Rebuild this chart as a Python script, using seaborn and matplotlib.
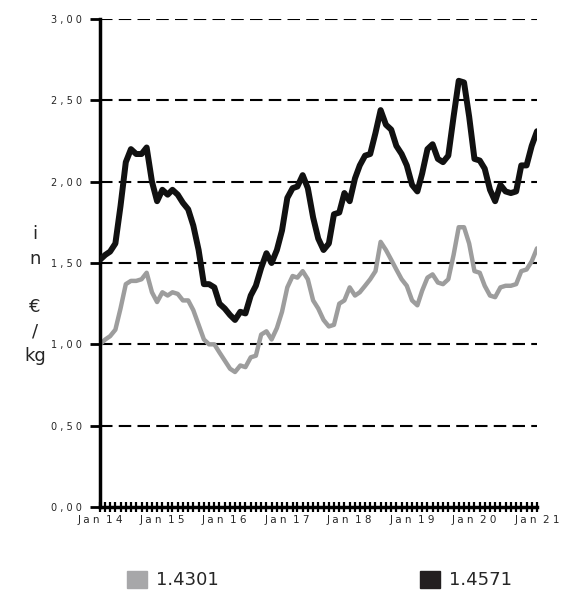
import pandas as pd
import numpy as np
import matplotlib
matplotlib.use("Agg")
import matplotlib.pyplot as plt
import matplotlib.dates as mdates
from matplotlib.ticker import FuncFormatter
from matplotlib.patches import Patch
import seaborn as sns

# monatliche Werte in EUR/kg, Jan 2014 - Jan 2021
months = pd.date_range("2014-01-01", "2021-01-01", freq="MS")

werte_14571 = [
    1.52, 1.55, 1.57, 1.62, 1.85, 2.12, 2.20, 2.17, 2.17, 2.21, 2.00, 1.88,
    1.95, 1.92, 1.95, 1.92, 1.87, 1.83, 1.73, 1.58, 1.37, 1.37, 1.35, 1.25,
    1.22, 1.18, 1.15, 1.20, 1.19, 1.30, 1.36, 1.47, 1.56, 1.50, 1.58, 1.70,
    1.90, 1.96, 1.97, 2.04, 1.96, 1.78, 1.65, 1.58, 1.62, 1.80, 1.81, 1.93,
    1.88, 2.02, 2.10, 2.16, 2.17, 2.30, 2.44, 2.35, 2.32, 2.22, 2.17, 2.10,
    1.98, 1.94, 2.05, 2.20, 2.23, 2.14, 2.12, 2.16, 2.40, 2.62, 2.61, 2.40,
    2.14, 2.13, 2.08, 1.95, 1.88, 1.98, 1.94, 1.93, 1.94, 2.10, 2.10, 2.22,
    2.31,
]
werte_14301 = [
    1.00, 1.03, 1.05, 1.09, 1.22, 1.37, 1.39, 1.39, 1.40, 1.44, 1.32, 1.26,
    1.32, 1.30, 1.32, 1.31, 1.27, 1.27, 1.21, 1.12, 1.03, 1.00, 1.00, 0.95,
    0.90, 0.85, 0.83, 0.87, 0.86, 0.92, 0.93, 1.06, 1.08, 1.03, 1.10, 1.20,
    1.35, 1.42, 1.41, 1.45, 1.40, 1.27, 1.22, 1.15, 1.11, 1.12, 1.25, 1.27,
    1.35, 1.30, 1.32, 1.36, 1.40, 1.45, 1.63, 1.58, 1.52, 1.46, 1.40, 1.36,
    1.27, 1.24, 1.33, 1.41, 1.43, 1.38, 1.37, 1.40, 1.55, 1.72, 1.72, 1.62,
    1.45, 1.44, 1.36, 1.30, 1.29, 1.35, 1.36, 1.36, 1.37, 1.45, 1.46, 1.51,
    1.59,
]
sorten = ["1.4301", "1.4571"]
farben = {"1.4301": "#9d9d9d", "1.4571": "#111111"}
breiten = {"1.4301": 3.2, "1.4571": 4.3}
jahres_labels = ["Jan 14", "Jan 15", "Jan 16", "Jan 17", "Jan 18", "Jan 19", "Jan 20", "Jan 21"]
y_ticks = [0, 0.5, 1.0, 1.5, 2.0, 2.5, 3.0]

df = pd.DataFrame({"Monat": list(months) * 2,
                   "Preis": werte_14301 + werte_14571,
                   "Sorte": ["1.4301"] * len(months) + ["1.4571"] * len(months)})


def sperren(t):
    # Buchstaben gesperrt wie im Original
    return "  ".join(" ".join(w) for w in t.split(" "))


sns.set_style("white")
plt.rcParams["ytick.left"] = True
plt.rcParams["xtick.bottom"] = True

fig = plt.figure(figsize=(5.61, 5.90), dpi=100)
ax = fig.add_axes([100 / 561, 1 - 507 / 590, 437 / 561, 488 / 590])

for s in sorten:
    sns.lineplot(data=df[df["Sorte"] == s], x="Monat", y="Preis", color=farben[s],
                 linewidth=breiten[s], ax=ax, legend=False, zorder=3 if s == "1.4571" else 2)

ax.set_ylim(0, 3)
ax.set_yticks(y_ticks)
ax.yaxis.set_major_formatter(FuncFormatter(lambda v, p: sperren(f"{v:.2f}".replace(".", ","))))

ax.set_xlim(months[0], months[-1])
ax.set_xticks(pd.date_range("2014-01-01", "2021-01-01", freq="YS"))
ax.xaxis.set_minor_locator(mdates.MonthLocator())
ax.set_xticklabels([sperren(l) for l in jahres_labels], fontsize=7.5)
ax.tick_params(axis="x", which="both", bottom=True, direction="inout", length=7, width=1.6,
               color="black", pad=2)
ax.set_xlabel("")
ax.set_ylabel("")

# Gitter gestrichelt
for y in y_ticks[1:]:
    ax.axhline(y, color="black", linewidth=1.5, linestyle=(0, (6, 3)), zorder=1)

for side in ["top", "right"]:
    ax.spines[side].set_visible(False)
for side in ["left", "bottom"]:
    ax.spines[side].set_linewidth(2.5)
    ax.spines[side].set_color("black")

fig.text(35 / 561, 1 - 295 / 590, "i\nn\n\n€\n/\nkg", ha="center", va="center",
         fontsize=13, linespacing=1.45)

fig.legend(handles=[Patch(color="#a7a7a9")], labels=["1.4301"], loc="center left",
           bbox_to_anchor=(111 / 561, 1 - 580 / 590), frameon=False, fontsize=13,
           handlelength=1.1, handleheight=1.1, handletextpad=0.5)
fig.legend(handles=[Patch(color="#231f20")], labels=["1.4571"], loc="center left",
           bbox_to_anchor=(404 / 561, 1 - 580 / 590), frameon=False, fontsize=13,
           handlelength=1.1, handleheight=1.1, handletextpad=0.5)

# y-Ticks ganz zum Schluss setzen
ax.yaxis.set_ticks_position("left")
ax.tick_params(axis="y", which="major", left=True, direction="out", length=7, width=2,
               color="black", pad=6, labelsize=7)
fig.canvas.draw()
for t in ax.yaxis.get_major_ticks():
    t.tick1line.set_visible(True)
    t.tick1line.set_markersize(7)
    t.tick1line.set_markeredgewidth(2)
    t.tick1line.set_markeredgecolor("black")

fig.savefig("out.png", dpi=100)
